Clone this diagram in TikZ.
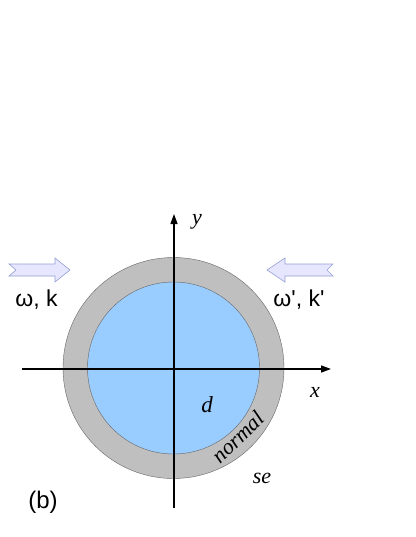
\documentclass[tikz,border=0pt]{standalone}
\usepackage{fontspec}
\setmainfont{Liberation Serif}
\setsansfont{Liberation Sans}
\usetikzlibrary{arrows.meta}
\tikzset{
  ring/.style={fill=gray!50!white, draw=black!60, line width=0.4pt},
  core/.style={fill={rgb,255:red,153;green,204;blue,255}, draw=black!60, line width=0.4pt},
  axis/.style={line width=1.3pt, -{Triangle[length=10pt,width=7pt]}},
  blockarrow/.style={fill={rgb,255:red,230;green,230;blue,255}, draw={rgb,255:red,150;green,160;blue,210}, line width=0.6pt},
  lbl/.style={font=\sffamily\fontsize{23}{27}\selectfont, inner sep=0pt},
  mathlbl/.style={font=\itshape\fontsize{22}{26}\selectfont, inner sep=0pt},
  smalllbl/.style={font=\itshape\fontsize{22}{26}\selectfont, inner sep=0pt}
}
\begin{document}
\begin{tikzpicture}[x=1pt,y=-1pt]
\useasboundingbox (0,0) rectangle (415,537);
% ring and core
\fill[ring] (173.5,368) circle (110.5);
\fill[core] (173.5,368) circle (86);
% axes
\coordinate (xs) at (22,369);
\coordinate (xe) at (331,369);
\coordinate (ys) at (174,508);
\coordinate (ye) at (174,214);
\draw[axis] (xs) -- (xe);
\draw[axis] (ys) -- (ye);
% block arrows
\draw[blockarrow] (9,264) -- (55,264) -- (55,258) -- (70,270) -- (55,282) -- (55,276) -- (9,276) -- (16,270) -- cycle;
\draw[blockarrow] (333,264) -- (285,264) -- (285,258) -- (267,270) -- (285,282) -- (285,276) -- (333,276) -- (327,270) -- cycle;
% labels
\node[lbl] (wk) at (36.5,300) {ω, k};
\node[lbl] (wk2) at (299,300) {ω\textquotesingle, k\textquotesingle};
\node[lbl, font=\sffamily\fontsize{24}{28}\selectfont] (b) at (43,502) {(b)};
\node[mathlbl] (ly) at (197,222) {y};
\node[mathlbl] (lx) at (315,392) {x};
\node[mathlbl, font=\itshape\fontsize{23}{27}\selectfont] (ld) at (207,405) {d};
\node[smalllbl, rotate=44] (ln) at (238,437) {normal};
\node[smalllbl] (lse) at (262,478) {se};
\end{tikzpicture}
\end{document}
